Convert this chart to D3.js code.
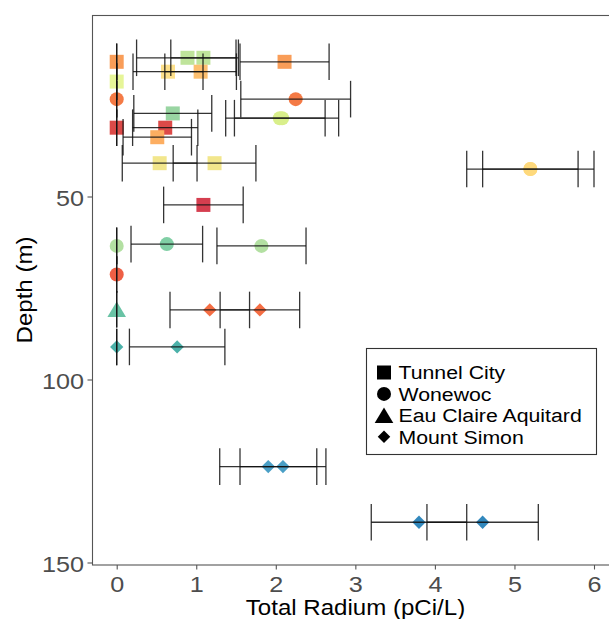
<!DOCTYPE html>
<html>
<head>
<meta charset="utf-8">
<script src="https://cdn.jsdelivr.net/npm/d3@7"></script>
<style>
  body { margin: 0; background: #fff; }
  svg { display: block; }
  text { font-family: "Liberation Sans", Arial, Helvetica, sans-serif; }
</style>
</head>
<body>
<svg id="chart" width="609" height="619"></svg>
<script>
// ---- data: one entry per sample ----
const formation = [
  "Tunnel City", "Tunnel City", "Tunnel City", "Tunnel City", "Tunnel City", "Tunnel City", "Tunnel City",
  "Wonewoc", "Wonewoc", "Tunnel City", "Wonewoc", "Wonewoc", "Tunnel City", "Tunnel City",
  "Tunnel City", "Tunnel City", "Tunnel City", "Wonewoc", "Wonewoc", "Tunnel City",
  "Wonewoc", "Wonewoc", "Wonewoc", "Wonewoc", "Eau Claire Aquitard", "Mount Simon", "Mount Simon",
  "Mount Simon", "Mount Simon", "Mount Simon", "Mount Simon", "Mount Simon", "Mount Simon"
];
const depth = [
  12.1, 12.1, 13.2, 13.2, 15.9, 15.9, 18.6,
  23.4, 23.4, 27.3, 28.6, 28.6, 31.2, 31.2,
  33.8, 40.9, 40.9, 42.5, 42.5, 52.3,
  63.5, 63.0, 63.5, 71.3, 80.8, 81.0, 81.0,
  91.1, 91.1, 123.8, 123.8, 139.0, 139.0
];
const radium = [
  0.89, 1.09, 0, 2.11, 0.645, 1.055, 0,
  0, 2.25, 0.705, 2.08, 2.05, 0, 0.61,
  0.51, 0.54, 1.23, 5.2, 5.2, 1.09,
  0, 0.63, 1.82, 0, 0, 1.17, 1.80,
  0, 0.76, 1.905, 2.09, 3.8, 4.6
];
const radiumErr = [
  0.64, 0.41, 0, 0.56, 0.44, 0.45, 0,
  0, 0.69, 0.49, 0.71, 0.57, 0, 0.41,
  0.43, 0.47, 0.52, 0.8, 0.6, 0.5,
  0, 0.45, 0.56, 0, 0, 0.5, 0.5,
  0, 0.6, 0.61, 0.54, 0.6, 0.7
];
const well = [
  "A", "A", "B", "B", "C", "D", "E",
  "F", "F", "G", "H", "H", "I", "I",
  "J", "K", "K", "L", "L", "M",
  "N", "O", "N", "P", "Q", "R", "R",
  "S", "S", "T", "T", "U", "U"
];
const formations = ["Tunnel City", "Wonewoc", "Eau Claire Aquitard", "Mount Simon"];
const xTicks = [0, 1, 2, 3, 4, 5, 6];
const yTicks = [50, 100, 150];

// ---- styling ----
const wellColor = d3.scaleOrdinal()
  .domain(["A","B","C","D","E","F","G","H","I","J","K","L","M","N","O","P","Q","R","S","T","U"])
  .range(["#bfe49b","#f99d58","#fde08b","#fdbf6f","#e6f598","#f47a45","#99d5a2","#d9ef8b",
          "#dc4a48","#fdae61","#f2e68c","#fed97c","#d53e4f","#b3e0a2","#80cfa5","#ee5f45",
          "#69c3a5","#f46d43","#4bb1a9","#4a9fc6","#3288bd"]);

const rows = depth.map((d, i) => ({
  formation: formation[i], depth: d, radium: radium[i], err: radiumErr[i], well: well[i]
}));

const svg = d3.select("#chart");
const panel = { left: 92.5, top: 15.5, right: 618, bottom: 565 };
const stretch = 1.12;

const x = d3.scaleLinear().domain([0, 6]).range([116.7, 594]);
const y = d3.scaleLinear().domain([0, 150]).range([13.5, 562.5]);

// panel frame
svg.append("rect")
  .attr("x", panel.left).attr("y", panel.top)
  .attr("width", panel.right - panel.left).attr("height", panel.bottom - panel.top)
  .attr("fill", "none").attr("stroke", "#555").attr("stroke-width", 1.1);

// axes
const xAxis = svg.append("g").attr("transform", `translate(0,${panel.bottom})`)
  .call(d3.axisBottom(x).tickValues(xTicks).tickSize(4.5).tickPadding(0).tickFormat(d3.format("d")));
const yAxis = svg.append("g").attr("transform", `translate(${panel.left},0)`)
  .call(d3.axisLeft(y).tickValues(yTicks).tickSize(5).tickPadding(0).tickFormat(d3.format("d")));
[xAxis, yAxis].forEach(g => {
  g.select(".domain").remove();
  g.selectAll(".tick line").attr("stroke", "#555").attr("stroke-width", 1.1);
  g.selectAll(".tick text").attr("fill", "#4d4d4d").style("font-size", "22.5px")
    .style("font-family", '"Liberation Sans", Arial, sans-serif');
});
xAxis.selectAll(".tick text")
  .attr("y", null).attr("dy", null)
  .attr("transform", `translate(0,26.5) scale(${stretch},1)`);
yAxis.selectAll(".tick text")
  .attr("x", null).attr("dy", null)
  .attr("dominant-baseline", "central")
  .attr("transform", `translate(-8.5,1) scale(${stretch},1)`);

// axis titles
svg.append("text")
  .attr("transform", `translate(355.5,614.5) scale(${stretch},1)`)
  .attr("text-anchor", "middle").style("font-size", "21.5px").attr("fill", "#000")
  .text("Total Radium (pCi/L)");
svg.append("text")
  .attr("transform", `translate(32,290) rotate(-90) scale(${stretch},1)`)
  .attr("text-anchor", "middle").style("font-size", "21.5px").attr("fill", "#000")
  .text("Depth (m)");

// marker shapes per formation
function shapePath(f, s) {
  if (f === "Tunnel City") return `M${-s},${-s}H${s}V${s}H${-s}Z`;
  if (f === "Wonewoc") return `M${s},0A${s},${s} 0 1 1 ${-s},0A${s},${s} 0 1 1 ${s},0Z`;
  if (f === "Eau Claire Aquitard") { const h = s * 1.1, w = s * 1.33; return `M0,${-h}L${w},${h}L${-w},${h}Z`; }
  const d = s * 0.95; return `M0,${-d}L${d},0L0,${d}L${-d},0Z`;
}
const markerSize = { "Tunnel City": 7, "Wonewoc": 7, "Eau Claire Aquitard": 7, "Mount Simon": 7 };

// points
svg.append("g").selectAll("path").data(rows).join("path")
  .attr("transform", d => `translate(${x(d.radium)},${y(d.depth)})`)
  .attr("d", d => shapePath(d.formation, markerSize[d.formation]))
  .attr("fill", d => wellColor(d.well));

// horizontal error bars (drawn over the points), cap height 10 m
const bars = svg.append("g").attr("stroke", "#111").attr("stroke-opacity", 0.85).attr("stroke-width", 1.3).attr("fill", "none");
rows.forEach(d => {
  const x0 = x(d.radium - d.err), x1 = x(d.radium + d.err);
  const yc = y(d.depth), ya = y(d.depth - 5), yb = y(d.depth + 5);
  bars.append("line").attr("x1", x0).attr("x2", x1).attr("y1", yc).attr("y2", yc);
  bars.append("line").attr("x1", x0).attr("x2", x0).attr("y1", ya).attr("y2", yb);
  bars.append("line").attr("x1", x1).attr("x2", x1).attr("y1", ya).attr("y2", yb);
});

// legend
const legend = svg.append("g");
legend.append("rect")
  .attr("x", 366.5).attr("y", 348.5).attr("width", 230).attr("height", 106)
  .attr("fill", "#fff").attr("stroke", "#333").attr("stroke-width", 1.1);
formations.forEach((f, i) => {
  const cy = 372.5 + i * 21.4;
  legend.append("path")
    .attr("transform", `translate(384,${cy})`)
    .attr("d", shapePath(f, f === "Mount Simon" ? 6.6 : 7))
    .attr("fill", "#000");
  legend.append("text")
    .attr("transform", `translate(398.5,${cy + 6.8}) scale(${stretch},1)`)
    .style("font-size", "19px").attr("fill", "#000")
    .text(f);
});
</script>
</body>
</html>
